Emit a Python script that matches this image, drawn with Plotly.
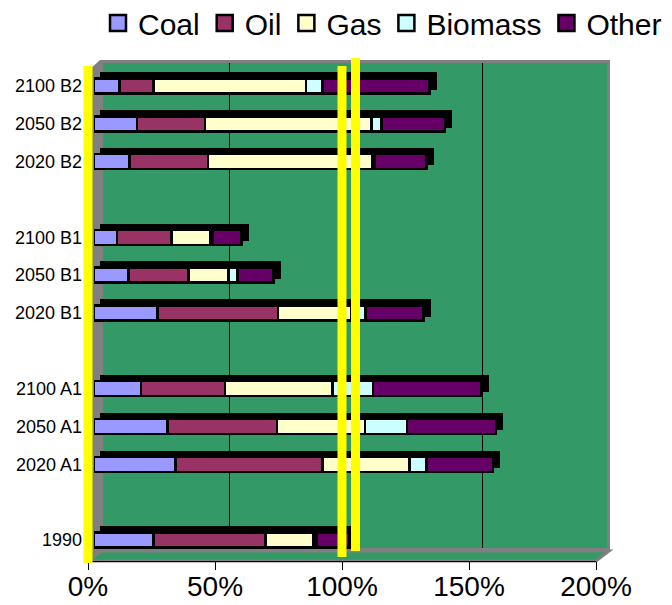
import plotly.graph_objects as go

# ---------------- data (bottom to top) ----------------
categories = ["1990", " ", "2020 A1", "2050 A1", "2100 A1", "  ",
              "2020 B1", "2050 B1", "2100 B1", "   ",
              "2020 B2", "2050 B2", "2100 B2"]
series_names = ["Coal", "Oil", "Gas", "Biomass", "Other"]
coal    = [23.5, None, 32.0, 29.0, 18.5, None, 25.0, 13.5, 9.0, None, 14.0, 17.0, 10.0]
oil     = [44.0, None, 58.0, 43.0, 33.0, None, 47.5, 23.7, 21.6, None, 30.8, 26.7, 13.5]
gas     = [19.0, None, 34.3, 34.7, 42.4, None, 28.8, 15.7, 15.0, None, 64.7, 65.5, 60.0]
biomass = [1.0,  None, 6.7, 16.5, 15.9, None, 5.5, 3.5, 1.0, None, 1.0, 4.0, 6.5]
other   = [13.0, None, 26.0, 35.0, 42.7, None, 23.0, 14.3, 11.4, None, 20.4, 25.0, 42.0]
colors = ["#9999FF", "#993366", "#FFFFCC", "#CCFFFF", "#660066"]
x_tick_values = [0, 50, 100, 150, 200]
x_tick_labels = ["0%", "50%", "100%", "150%", "200%"]
highlight_values = [0, 100]

series = [coal, oil, gas, biomass, other]
totals = []
for i in range(len(categories)):
    vals = [s[i] for s in series if s[i] is not None]
    totals.append(sum(vals) if vals else None)

# ---------------- geometry helpers (screen pixels -> paper) ----------------
# the page body adds an 8px offset, so the figure is sized to fit the window
OFF = 8
W, H = 672 - OFF, 605 - OFF
def px(x):
    return (x - OFF) / W
def py(y):
    return 1 - (y - OFF) / H

FONT = "Liberation Sans, Arial, sans-serif"
GREEN = "#339966"
GRAY = "#808080"

fig = go.Figure()

# back wall subplot (gridlines only)
fig.add_trace(go.Scatter(x=[], y=[], xaxis="x", yaxis="y", showlegend=False, hoverinfo="skip"))

# 3D extrusion of bars (back face), offset up-right
fig.add_trace(go.Bar(
    y=categories, x=totals, orientation="h", xaxis="x2", yaxis="y2",
    marker=dict(color="#000000", line=dict(color="#000000", width=2.5)),
    showlegend=False, hoverinfo="skip"))

# front faces, stacked
for name, vals, col in zip(series_names, series, colors):
    fig.add_trace(go.Bar(
        y=categories, x=vals, orientation="h", name=name, legendgroup=name,
        xaxis="x3", yaxis="y3", showlegend=False,
        marker=dict(color=col, line=dict(color="#000000", width=2.5))))

# legend keys (larger square swatches like the original)
for name, col in zip(series_names, colors):
    fig.add_trace(go.Scatter(
        x=[None], y=[None], mode="markers", name=name, legendgroup=name,
        xaxis="x3", yaxis="y3", hoverinfo="skip",
        marker=dict(symbol="square", size=16, color=col,
                    line=dict(color="#000000", width=2.5))))

# front axis subplot (ticks)
fig.add_trace(go.Scatter(x=[], y=[], xaxis="x4", yaxis="y4", showlegend=False, hoverinfo="skip"))
# helper subplot sharing the front-axis scale, wider so the highlight lines aren't clipped
fig.add_trace(go.Scatter(x=[], y=[], xaxis="x5", yaxis="y5", showlegend=False, hoverinfo="skip"))

hidden_x = dict(range=[0, 200], showgrid=False, zeroline=False, showticklabels=False,
                ticks="", showline=False, fixedrange=True, automargin=False)
cat_y = dict(type="category", categoryorder="array", categoryarray=categories,
             range=[-0.5, len(categories) - 0.5], showgrid=False, zeroline=False,
             showline=False, ticks="", fixedrange=True, automargin=False)

FRONT_L, FRONT_R = 88, 596
pad_px = 20
pad_units = pad_px * 200 / (FRONT_R - FRONT_L)

fig.update_layout(
    template="none",
    width=W, height=H,
    margin=dict(l=0, r=0, t=0, b=0, pad=0, autoexpand=False),
    paper_bgcolor="white", plot_bgcolor="rgba(0,0,0,0)",
    barmode="stack", bargap=0.6,
    font=dict(family=FONT, color="black"),
    xaxis=dict(domain=[px(102.5), px(608.5)], range=[0, 200], anchor="y",
               showgrid=True, gridcolor="#000000", gridwidth=1,
               tickvals=[50, 100, 150], showticklabels=False, ticks="",
               zeroline=False, showline=False, fixedrange=True, automargin=False),
    yaxis=dict(domain=[py(548), py(63)], range=[0, 1], visible=False, fixedrange=True,
               automargin=False),
    xaxis2=dict(domain=[px(100), px(608)], anchor="y2", **hidden_x),
    yaxis2=dict(domain=[py(553.9), py(62.1)], anchor="x2", visible=False, **cat_y),
    xaxis3=dict(domain=[px(94), px(602)], anchor="y3", **hidden_x),
    yaxis3=dict(domain=[py(558.9), py(67.1)], anchor="x3", showticklabels=True,
                tickfont=dict(size=18, family=FONT), ticklabelstandoff=11, **cat_y),
    xaxis4=dict(domain=[px(FRONT_L), px(FRONT_R)], anchor="y4", range=[0, 200],
                tickvals=x_tick_values, ticktext=x_tick_labels,
                showline=True, linecolor="#000000", linewidth=1,
                ticks="outside", ticklen=8, tickcolor="#000000", tickwidth=1,
                tickfont=dict(size=28, family=FONT), ticklabelstandoff=-8,
                showgrid=False, zeroline=False, fixedrange=True, automargin=False),
    yaxis4=dict(domain=[py(561), py(100)], anchor="x4", visible=False, fixedrange=True,
                automargin=False),
    xaxis5=dict(domain=[px(FRONT_L - pad_px), px(FRONT_R + pad_px)], anchor="y5",
                range=[-pad_units, 200 + pad_units], visible=False, fixedrange=True,
                automargin=False),
    yaxis5=dict(domain=[py(570), py(50)], anchor="x5", visible=False, fixedrange=True,
                automargin=False),
    legend=dict(orientation="h", x=px(98), y=py(-3), xanchor="left", yanchor="top",
                font=dict(size=30, family=FONT), bgcolor="rgba(0,0,0,0)",
                itemclick=False, itemdoubleclick=False, traceorder="normal",
                itemwidth=30, tracegroupgap=0, itemsizing="trace"),
    hovermode=False,
)

shapes = []
# back wall: gray frame and green face
shapes.append(dict(type="rect", xref="paper", yref="paper", layer="below",
                   x0=px(100), x1=px(610), y0=py(551), y1=py(60),
                   fillcolor=GRAY, line=dict(width=0)))
shapes.append(dict(type="rect", xref="paper", yref="paper", layer="below",
                   x0=px(103), x1=px(607), y0=py(548), y1=py(63),
                   fillcolor=GREEN, line=dict(width=0)))
# left wall
shapes.append(dict(type="path", xref="paper", yref="paper", layer="below",
                   path=f"M {px(88)},{py(71)} L {px(100)},{py(60)} L {px(103)},{py(63)} "
                        f"L {px(103)},{py(551)} L {px(88)},{py(561)} Z",
                   fillcolor=GRAY, line=dict(width=0)))
# floor
shapes.append(dict(type="path", xref="paper", yref="paper", layer="below",
                   path=f"M {px(101)},{py(551)} L {px(609)},{py(551)} L {px(596)},{py(561)} "
                        f"L {px(88)},{py(561)} Z",
                   fillcolor=GREEN, line=dict(color=GRAY, width=3)))
# yellow highlight lines (front plane at 0% and 100%, back plane at 100%)
shapes.append(dict(type="line", xref="x5", yref="paper", layer="above",
                   x0=highlight_values[0], x1=highlight_values[0], y0=py(66), y1=py(563),
                   line=dict(color="#FFFF00", width=9)))
shapes.append(dict(type="line", xref="x5", yref="paper", layer="above",
                   x0=highlight_values[1], x1=highlight_values[1], y0=py(66), y1=py(557),
                   line=dict(color="#FFFF00", width=9)))
shapes.append(dict(type="line", xref="x", yref="paper", layer="above",
                   x0=highlight_values[1], x1=highlight_values[1], y0=py(58), y1=py(551),
                   line=dict(color="#FFFF00", width=9)))
fig.update_layout(shapes=shapes)

fig.write_html("out.html")
